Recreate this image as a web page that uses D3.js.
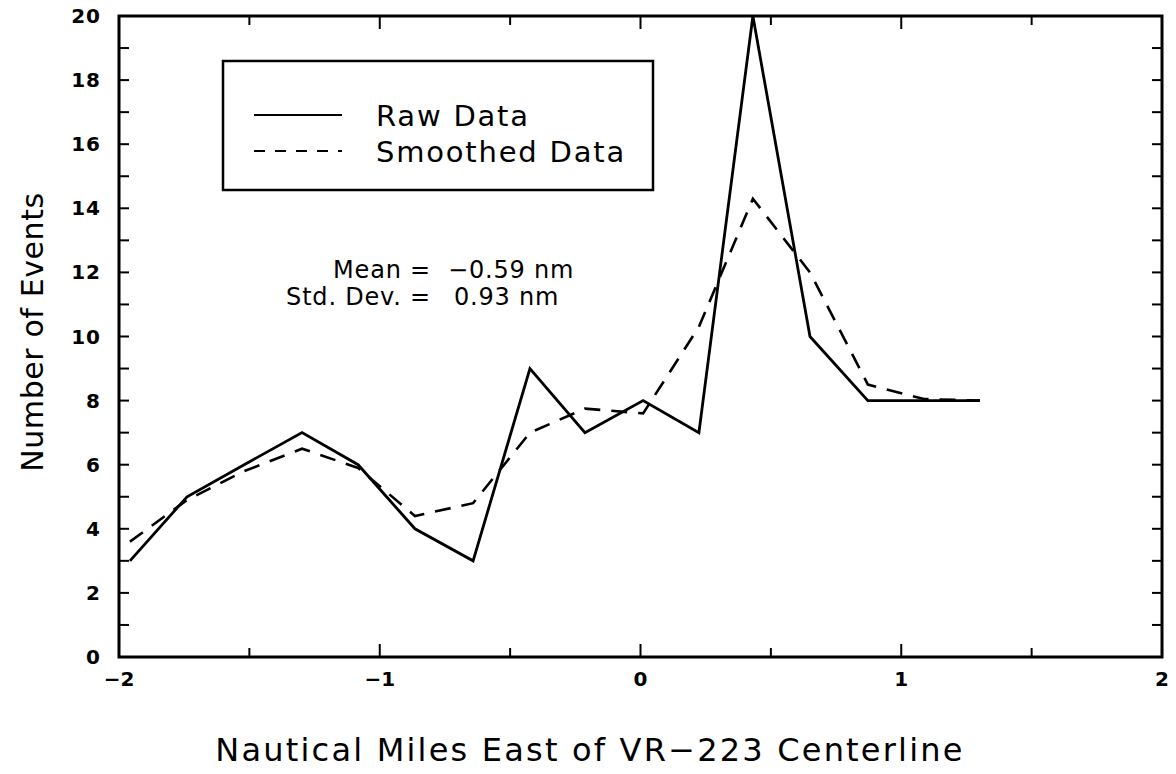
<!DOCTYPE html>
<html>
<head>
<meta charset="utf-8">
<script src="https://cdn.jsdelivr.net/npm/d3@7"></script>
<style>
  html, body { margin: 0; padding: 0; background: #fff; }
  svg { display: block; }
</style>
</head>
<body>
<svg id="chart" width="1176" height="774"></svg>
<script>
// ---- data ----
const xPositions = [-1.958, -1.739, -1.52, -1.298, -1.083, -0.865, -0.642, -0.424, -0.213, 0.01, 0.224, 0.431, 0.65, 0.872, 1.087, 1.302];
const rawData = [3, 5, 6, 7, 6, 4, 3, 9, 7, 8, 7, 20, 10, 8, 8, 8];
const smoothedData = [3.6, 4.9, 5.8, 6.5, 5.9, 4.4, 4.8, 7.0, 7.75, 7.6, 10.3, 14.3, 12.0, 8.5, 8.05, 8.0];
const xTickLabels = [-2, -1, 0, 1, 2];
const yTickLabels = [0, 2, 4, 6, 8, 10, 12, 14, 16, 18, 20];
const seriesNames = ["Raw Data", "Smoothed Data"];
const statLines = [["Mean =", "\u22120.59 nm"], ["Std. Dev. =", "0.93 nm"]];
const xTitle = "Nautical Miles East of VR\u2212223 Centerline";
const yTitle = "Number of Events";

// ---- layout ----
const L = 119, R = 1162, T = 16, B = 657;
const svg = d3.select("#chart");
const font = "'DejaVu Sans', sans-serif";

const x = d3.scaleLinear().domain([-2, 2]).range([L, R]);
const y = d3.scaleLinear().domain([0, 20]).range([B, T]);

// ticks (inward) on all sides
const g = svg.append("g").attr("stroke", "#000").attr("stroke-width", 2);
d3.range(-2, 2.001, 0.5).forEach(v => {
  const major = Math.abs(v - Math.round(v)) < 1e-6;
  const len = major ? 13 : 9;
  g.append("line").attr("x1", x(v)).attr("x2", x(v)).attr("y1", B).attr("y2", B - len);
  g.append("line").attr("x1", x(v)).attr("x2", x(v)).attr("y1", T).attr("y2", T + len);
});
d3.range(0, 20.001, 1).forEach(v => {
  const len = 10;
  g.append("line").attr("x1", L).attr("x2", L + len).attr("y1", y(v)).attr("y2", y(v));
  g.append("line").attr("x1", R).attr("x2", R - len).attr("y1", y(v)).attr("y2", y(v));
});

// frame
svg.append("rect").attr("x", L).attr("y", T).attr("width", R - L).attr("height", B - T)
  .attr("fill", "none").attr("stroke", "#000").attr("stroke-width", 3);

// tick labels
svg.append("g").selectAll("text").data(yTickLabels).join("text")
  .attr("x", 101).attr("y", d => y(d) + 7)
  .attr("text-anchor", "end").attr("font-family", font).attr("font-weight", "bold")
  .attr("font-size", 20).attr("letter-spacing", 1).text(d => d);
svg.append("g").selectAll("text").data(xTickLabels).join("text")
  .attr("x", d => x(d)).attr("y", 686)
  .attr("text-anchor", "middle").attr("font-family", font).attr("font-weight", "bold")
  .attr("font-size", 20).text(d => d < 0 ? "\u2212" + Math.abs(d) : d);

// axis titles
svg.append("text").attr("x", 590).attr("y", 761).attr("text-anchor", "middle")
  .attr("font-family", font).attr("font-size", 32).attr("letter-spacing", 2.2).text(xTitle);
svg.append("text").attr("transform", "translate(43,332) rotate(-90)").attr("text-anchor", "middle")
  .attr("font-family", font).attr("font-size", 30).attr("letter-spacing", 0.6).text(yTitle);

// lines
const pts = (vals) => vals.map((v, i) => [xPositions[i], v]);
const line = d3.line().x(d => x(d[0])).y(d => y(d[1]));
svg.append("path").attr("d", line(pts(smoothedData))).attr("fill", "none")
  .attr("stroke", "#000").attr("stroke-width", 2.6).attr("stroke-dasharray", "16,11");
svg.append("path").attr("d", line(pts(rawData))).attr("fill", "none")
  .attr("stroke", "#000").attr("stroke-width", 2.8).attr("stroke-linejoin", "miter");

// legend
svg.append("rect").attr("x", 223).attr("y", 61).attr("width", 430).attr("height", 129)
  .attr("fill", "#fff").attr("stroke", "#000").attr("stroke-width", 2.5);
[0, 1].forEach(i => {
  const ly = 115 + i * 36;
  svg.append("line").attr("x1", 254).attr("x2", 342).attr("y1", ly).attr("y2", ly)
    .attr("stroke", "#000").attr("stroke-width", 2)
    .attr("stroke-dasharray", i === 1 ? "11,10" : null);
  svg.append("text").attr("x", 376).attr("y", ly + 11).attr("font-family", font)
    .attr("font-size", 29).attr("letter-spacing", 1.8).text(seriesNames[i]);
});

// stats
statLines.forEach((s, i) => {
  const by = 278 + i * 27;
  svg.append("text").attr("x", 431).attr("y", by).attr("text-anchor", "end")
    .attr("font-family", font).attr("font-size", 24).attr("letter-spacing", 0.8).text(s[0]);
  svg.append("text").attr("x", i === 0 ? 448 : 454).attr("y", by)
    .attr("font-family", font).attr("font-size", 24).attr("letter-spacing", 0.8).text(s[1]);
});
</script>
</body>
</html>
